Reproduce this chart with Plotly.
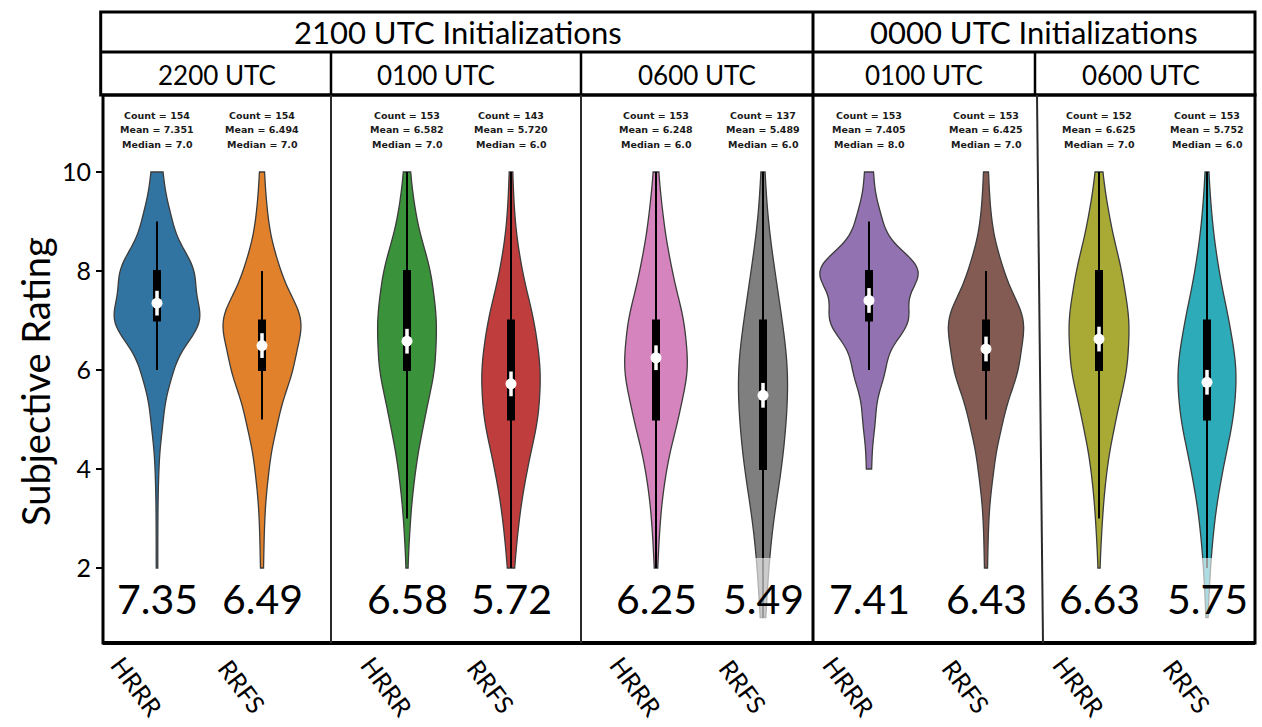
import numpy as np
import plotly.graph_objects as go
from decimal import Decimal, ROUND_HALF_UP

# ---------------- data ----------------
RATINGS = list(range(1, 11))  # subjective rating scale 1..10
MODELS = ["HRRR", "RRFS"] * 5
# estimated number of responses per rating (1..10) for each violin
HRRR_21Z_2200 = [0, 1, 1, 2, 7, 18, 55, 46, 17, 7]
RRFS_21Z_2200 = [0, 2, 3, 8, 19, 38, 53, 21, 7, 3]
HRRR_21Z_0100 = [0, 1, 4, 10, 21, 35, 37, 30, 11, 4]
RRFS_21Z_0100 = [0, 4, 9, 18, 32, 35, 27, 12, 4, 2]
HRRR_21Z_0600 = [0, 2, 5, 12, 27, 41, 35, 19, 9, 3]
RRFS_21Z_0600 = [3, 6, 11, 21, 26, 29, 21, 13, 5, 2]
HRRR_00Z_0100 = [0, 0, 0, 3, 7, 18, 46, 60, 14, 5]
RRFS_00Z_0100 = [0, 2, 3, 9, 20, 40, 50, 20, 6, 3]
HRRR_00Z_0600 = [0, 1, 4, 9, 20, 35, 38, 28, 13, 4]
RRFS_00Z_0600 = [1, 4, 9, 19, 33, 38, 27, 14, 6, 2]

# statistics printed on the chart
COUNTS = [154, 154, 153, 143, 153, 137, 153, 153, 152, 153]
MEANS = ["7.351", "6.494", "6.582", "5.720", "6.248", "5.489", "7.405", "6.425", "6.625", "5.752"]
MEDIANS = [7.0, 7.0, 7.0, 6.0, 6.0, 6.0, 8.0, 7.0, 7.0, 6.0]

GROUPS = ["2100 UTC Initializations", "0000 UTC Initializations"]
VALID_TIMES = ["2200 UTC", "0100 UTC", "0600 UTC", "0100 UTC", "0600 UTC"]
Y_TICKS = [2, 4, 6, 8, 10]

# ---------------- layout / style ----------------
SERIES = [HRRR_21Z_2200, RRFS_21Z_2200, HRRR_21Z_0100, RRFS_21Z_0100, HRRR_21Z_0600,
          RRFS_21Z_0600, HRRR_00Z_0100, RRFS_00Z_0100, HRRR_00Z_0600, RRFS_00Z_0600]
COLORS = ["#3274a1", "#e1812c", "#3a923a", "#c03d3e", "#d684bd",
          "#7f7f7f", "#9372b2", "#845b53", "#a9aa35", "#2eabb8"]
# the x axis is expressed in pixel-like units of the composite figure
XPOS = [157, 262, 407, 511, 656, 763, 869, 986, 1099, 1207]
X_LEFT, X_RIGHT = 103, 1255
Y_BOT, Y_TOP = 0.485, 11.556
W, H = 1262, 727
M_L, M_R, M_T, M_B = 103, 7, 95, 84
PLOT_H = H - M_T - M_B
MAX_VIOLIN_W = 98

def py2paper(py):
    return (H - M_B - py) / PLOT_H

FONT = "Lato"
fig = go.Figure()

# Scott bandwidth and peak KDE density (violins scaled to equal area)
samples, bws, peaks = [], [], []
for counts in SERIES:
    vals = np.repeat(RATINGS, counts).astype(float)
    bw = np.std(vals, ddof=1) * len(vals) ** (-0.2)
    grid = np.linspace(vals.min(), vals.max(), 400)
    dens = np.exp(-0.5 * ((grid[:, None] - vals[None, :]) / bw) ** 2).sum(axis=1) / (len(vals) * bw * np.sqrt(2 * np.pi))
    samples.append(vals)
    bws.append(bw)
    peaks.append(dens.max())
peak_max = max(peaks)

for i, vals in enumerate(samples):
    vw = MAX_VIOLIN_W * peaks[i] / peak_max
    fig.add_trace(go.Violin(
        x0=XPOS[i], y=vals, name=f"{MODELS[i]} {i}", orientation="v",
        fillcolor=COLORS[i], line=dict(color="#3c3c3c", width=1.3), opacity=1,
        spanmode="hard", bandwidth=bws[i], scalemode="width", scalegroup=f"g{i}",
        width=vw,
        points="outliers", jitter=0, pointpos=0, marker=dict(size=1, opacity=0),
        box=dict(visible=True, width=6 / vw, fillcolor="black",
                 line=dict(color="black", width=2)),
        meanline=dict(visible=False), hoverinfo="skip", showlegend=False,
    ))

for i in range(len(SERIES)):
    fig.add_trace(go.Scatter(
        x=[XPOS[i]], y=[float(MEANS[i])], mode="markers",
        marker=dict(color="white", size=11, line=dict(width=0)),
        error_y=dict(type="constant", value=0.25, color="white", thickness=3.5, width=0),
        hoverinfo="skip", showlegend=False,
    ))

shapes = []
# fade the tails that run into the value labels
for i, vals in enumerate(samples):
    if vals.min() < 2:
        shapes.append(dict(type="rect", xref="x", yref="y", x0=XPOS[i] - 18, x1=XPOS[i] + 18,
                           y0=Y_BOT, y1=2.2, fillcolor="white", opacity=0.6,
                           line=dict(width=0), layer="above"))

# plot frame
shapes.append(dict(type="rect", xref="paper", yref="paper", x0=0, x1=1, y0=0, y1=1,
                   line=dict(color="black", width=3)))
shapes.append(dict(type="line", xref="paper", yref="paper", x0=0, x1=1, y0=0, y1=0,
                   line=dict(color="black", width=4)))
# header boxes
HDR_TOP = py2paper(12)
HDR_MID = py2paper(52)
shapes.append(dict(type="rect", xref="paper", yref="paper", x0=-0.002, x1=1, y0=1, y1=HDR_TOP,
                   line=dict(color="black", width=3)))
shapes.append(dict(type="line", xref="paper", yref="paper", x0=-0.002, x1=1, y0=HDR_MID, y1=HDR_MID,
                   line=dict(color="black", width=3)))
# panel dividers (inside plot)
for xa, xb, lw, col in [(331, 331, 2, "#2a2a2a"), (581, 581, 2, "#2a2a2a"),
                        (813, 813, 3, "black"), (1043, 1037, 2, "#2a2a2a")]:
    shapes.append(dict(type="line", xref="x", yref="paper", x0=xa, x1=xb, y0=0, y1=1,
                       line=dict(color=col, width=lw)))
# header dividers
for xd, top, lw in [(331, HDR_MID, 2.5), (581, HDR_MID, 2.5), (1035, HDR_MID, 2.5), (813, HDR_TOP, 3)]:
    shapes.append(dict(type="line", xref="x", yref="paper", x0=xd, x1=xd, y0=1, y1=top,
                       line=dict(color="black", width=lw)))

ann = []
def add_text(text, x, y, xref, yref, size, family=FONT, angle=0, color="black"):
    ann.append(dict(text=text, x=x, y=y, xref=xref, yref=yref, showarrow=False,
                    xanchor="center", yanchor="middle", textangle=angle,
                    font=dict(family=family, size=size, color=color)))

# header texts
for txt, xc in zip(GROUPS, [458, 1034]):
    add_text(txt, xc, py2paper(32), "x", "paper", 31)
for txt, xc in zip(VALID_TIMES, [217, 436, 697, 924, 1141]):
    add_text(txt, xc, py2paper(75), "x", "paper", 26)

def round2(s):
    return str(Decimal(s).quantize(Decimal("0.01"), rounding=ROUND_HALF_UP))

for i in range(len(SERIES)):
    lines = [f"Count = {COUNTS[i]}", f"Mean = {MEANS[i]}", f"Median = {MEDIANS[i]:.1f}"]
    for ln, yy in zip(lines, [11.15, 10.86, 10.56]):
        add_text(f"<b>{ln}</b>", XPOS[i], yy, "x", "y", 9.5, family="DejaVu Sans", color="#1a1a1a")
    add_text(round2(MEANS[i]), XPOS[i], 1.39, "x", "y", 41)
    add_text(MODELS[i], XPOS[i] - 20, py2paper(686), "x", "paper", 25, angle=53)

add_text("Subjective Rating", (35 - M_L) / (W - M_L - M_R), py2paper(382), "paper", "paper", 38, angle=-90)

fig.update_layout(
    width=W, height=H, margin=dict(l=M_L, r=M_R, t=M_T, b=M_B),
    plot_bgcolor="white", paper_bgcolor="white", showlegend=False, violinmode="overlay",
    xaxis=dict(range=[X_LEFT, X_RIGHT], showgrid=False, zeroline=False, showticklabels=False,
               ticks="", showline=False, fixedrange=True),
    yaxis=dict(range=[Y_BOT, Y_TOP], tickvals=Y_TICKS, ticks="outside", ticklen=6, tickwidth=1.5,
               tickcolor="black", tickfont=dict(family=FONT, size=25, color="black"),
               showgrid=False, zeroline=False, showline=False, fixedrange=True),
    shapes=shapes, annotations=ann,
)

fig.write_html("out.html", config={"displayModeBar": False},
               post_script="document.body.style.margin='0';")
